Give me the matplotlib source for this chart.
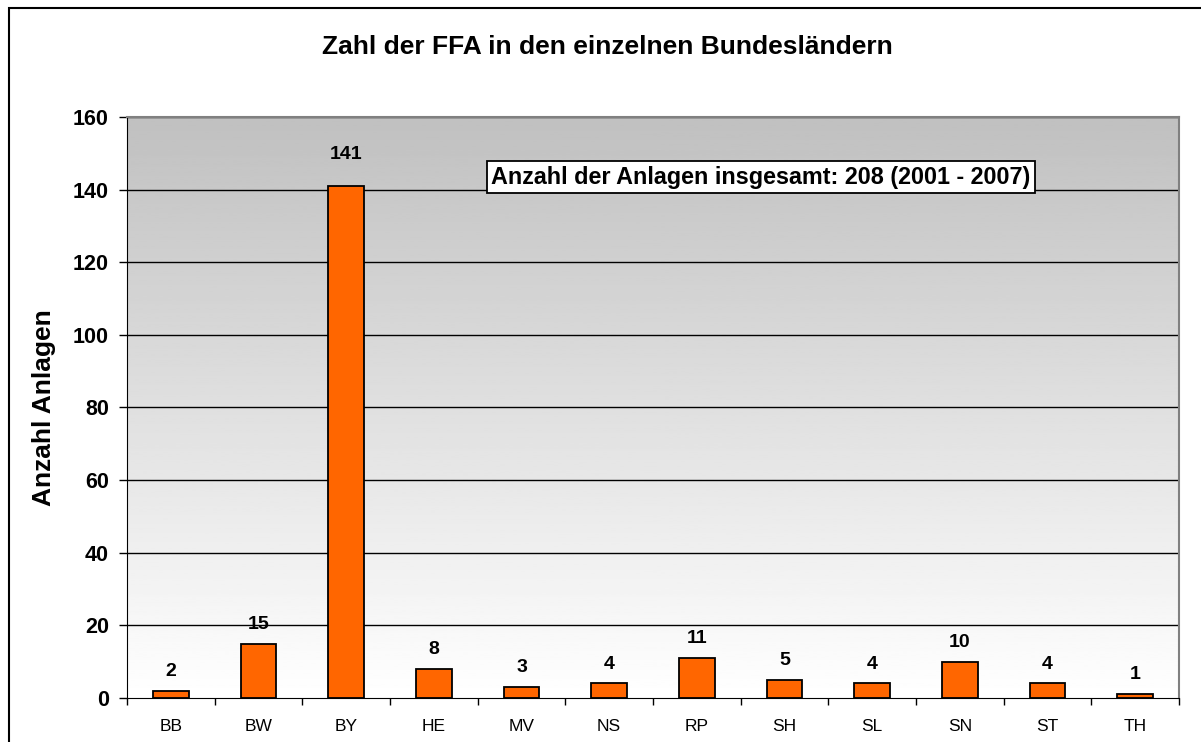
import matplotlib.pyplot as plt
import numpy as np
from matplotlib.patches import Rectangle

plt.rcParams['font.family'] = ['Liberation Sans', 'DejaVu Sans']

laender = ['BB', 'BW', 'BY', 'HE', 'MV', 'NS', 'RP', 'SH', 'SL', 'SN', 'ST', 'TH']
anzahl = [2, 15, 141, 8, 3, 4, 11, 5, 4, 10, 4, 1]

fig = plt.figure(figsize=(12.01, 7.42), dpi=100)
ax = fig.add_axes([127/1201, 1-698/742, (1179-127)/1201, (698-117)/742])

# gradient background, grey on top to white at the bottom
grad = np.linspace(1.0, 192/255, 256).reshape(-1, 1)
ax.imshow(grad, cmap='gray', vmin=0, vmax=1, origin='lower', aspect='auto',
          extent=[-0.5, len(laender)-0.5, 0, 160], zorder=0)

ax.set_yticks(np.arange(0, 161, 20))
for y in np.arange(20, 161, 20):
    ax.axhline(y, color='black', lw=1, zorder=1)

idx = np.arange(len(laender))
ax.bar(idx, anzahl, width=0.41, color='#FF6600', edgecolor='black', lw=1.3, zorder=2)

for i, v in enumerate(anzahl):
    off = 23 if v > 100 else 14
    ax.annotate(str(v), (i, v), xytext=(0, off), textcoords='offset points',
                ha='center', va='center', fontsize=14, fontweight='bold', zorder=3)

ax.set_xlim(-0.5, len(laender)-0.5)
ax.set_ylim(0, 160)
ax.set_xticks(idx)
ax.set_xticklabels(laender, fontsize=12.5)
ax.set_xticks(np.arange(-0.5, len(laender), 1), minor=True)
ax.tick_params(axis='x', which='major', length=0, pad=15)
ax.tick_params(axis='x', which='minor', length=5, width=1, direction='out')
ax.tick_params(axis='y', length=6, width=1, direction='out', pad=7, labelsize=15.5)
for lab in ax.get_yticklabels():
    lab.set_fontweight('bold')

for s in ['top', 'right']:
    ax.spines[s].set_color('#808080')
    ax.spines[s].set_linewidth(1.5)
ax.spines['left'].set_color('black')
ax.spines['bottom'].set_color('black')

ax.set_ylabel('Anzahl Anlagen', fontsize=19, fontweight='bold', labelpad=12)
fig.text(607/1201, 1-47/742, 'Zahl der FFA in den einzelnen Bundesländern',
         ha='center', va='center', fontsize=19, fontweight='bold')

ax.text(6.73, 143.4, 'Anzahl der Anlagen insgesamt: 208 (2001 - 2007)',
        ha='center', va='center', fontsize=16.8, fontweight='bold', zorder=4,
        bbox=dict(facecolor='white', edgecolor='black', lw=1.3, boxstyle='square,pad=0.2'))

# outer frame of the chart
fig.patches.append(Rectangle((9/1201, -0.1), 1.2, 1.1 - 8/742, transform=fig.transFigure,
                             fill=False, edgecolor='black', lw=1.5))

plt.savefig('out.png', dpi=100)
